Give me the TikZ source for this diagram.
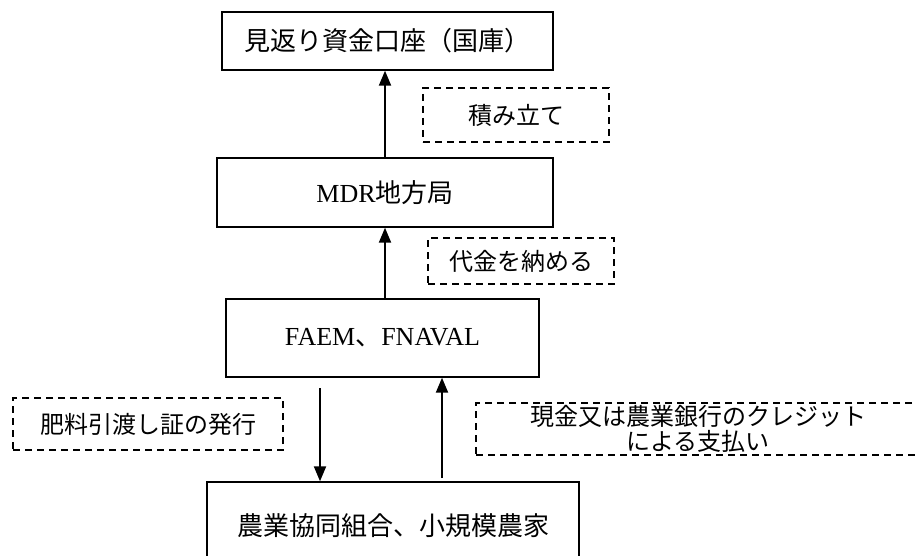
\documentclass[tikz,border=0pt]{standalone}
\usepackage{fontspec}
\setmainfont{Liberation Serif}
\newfontfamily\cjk{Noto Sans CJK JP}
\usetikzlibrary{arrows.meta}
\begin{document}
\begin{tikzpicture}[x=1pt,y=-1pt,
  solidbox/.style={draw,line width=1.4pt,rectangle,inner sep=0pt,font=\fontsize{26}{30}\selectfont},
  dashbox/.style={draw,line width=1.3pt,dash pattern=on 7pt off 5pt,rectangle,inner sep=0pt,align=center,font=\cjk\fontsize{24}{28}\selectfont},
  arr/.style={line width=2pt,-{Triangle[length=15pt,width=12pt]}}]
\useasboundingbox (0,0) rectangle (917,556);
\node[solidbox,minimum width=331pt,minimum height=58pt] (b1) at (387.5,41) {\cjk 見返り資金口座（国庫）};
\node[solidbox,minimum width=336pt,minimum height=69pt] (b2) at (385,192.5) {MDR{\cjk 地方局}};
\node[solidbox,minimum width=313pt,minimum height=78pt] (b3) at (382.5,338) {FAEM{\cjk 、}FNAVAL};
\node[solidbox,minimum width=372pt,minimum height=88pt] (b4) at (393,526) {\cjk 農業協同組合、小規模農家};
\node[dashbox,minimum width=186pt,minimum height=54pt] (d1) at (516,115) {積み立て};
\node[dashbox,minimum width=186pt,minimum height=46pt] (d2) at (521,261) {代金を納める};
\node[dashbox,minimum width=270pt,minimum height=52pt] (d3) at (148,424) {肥料引渡し証の発行};
\node[dashbox,minimum width=444pt,minimum height=52pt] (d4) at (698,429) {現金又は農業銀行のクレジット\\[-3pt]による支払い};
\draw[arr] (b2.north) -- (b2.north |- b1.south);
\draw[arr] (b3.north -| b2.north) -- (b2.south);
\coordinate (s3) at (320,388);
\coordinate (e3) at (320,482);
\coordinate (s4) at (442,478);
\coordinate (e4) at (442,377);
\draw[arr] (s3) -- (e3 |- b4.north);
\draw[arr] (s4) -- (e4 |- b3.south);
\end{tikzpicture}
\end{document}
